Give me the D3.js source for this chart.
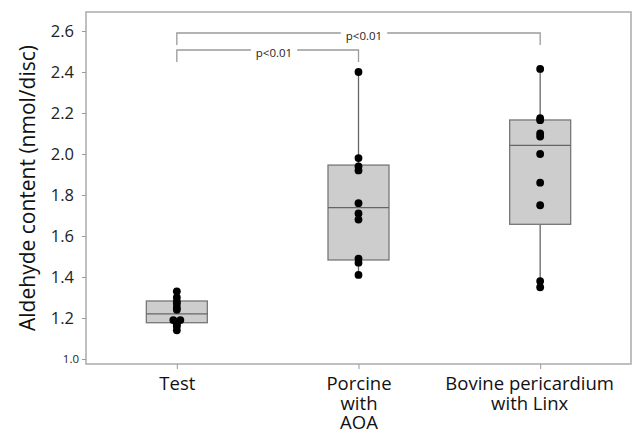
<!DOCTYPE html>
<html><head><meta charset="utf-8">
<script src="https://cdn.jsdelivr.net/npm/d3@7"></script>
<style>html,body{margin:0;padding:0;background:#fff;}svg{display:block;}</style>
</head><body><svg id="chart" width="633" height="436"></svg>
<script>
const categories = ["Test", "Porcine\nwith\nAOA", "Bovine pericardium\nwith Linx"];
const testValues = [1.33, 1.30, 1.28, 1.27, 1.25, 1.24, 1.19, 1.19, 1.17, 1.16, 1.14];
const porcineValues = [2.40, 1.98, 1.94, 1.92, 1.76, 1.71, 1.68, 1.49, 1.47, 1.41];
const bovineValues = [2.415, 2.175, 2.165, 2.10, 2.085, 2.00, 1.86, 1.75, 1.38, 1.35];
const boxQ1 = [1.177, 1.483, 1.657];
const boxMedian = [1.220, 1.738, 2.042];
const boxQ3 = [1.283, 1.946, 2.166];
const whiskerLow = [1.14, 1.41, 1.35];
const whiskerHigh = [1.33, 2.40, 2.415];
const yTicks = [1.0, 1.2, 1.4, 1.6, 1.8, 2.0, 2.2, 2.4, 2.6];
const comparisons = [
  {from: 0, to: 2, label: "p<0.01"},
  {from: 0, to: 1, label: "p<0.01"}
];
const yTitle = "Aldehyde content (nmol/disc)";

(function() {
const groups = [testValues, porcineValues, bovineValues];
const svg = d3.select("#chart");
const pLeft = 86, pRight = 631, pTop = 12, pBottom = 364;
const font = "'Open Sans', 'Noto Sans', sans-serif";

const x = d3.scalePoint().domain(d3.range(categories.length)).range([pLeft, pRight]).padding(0.5);
const y = d3.scaleLinear().domain([1.0, 2.6]).range([359, 31]);

// frame
svg.append("rect").attr("x", pLeft).attr("y", pTop).attr("width", pRight - pLeft).attr("height", pBottom - pTop)
  .attr("fill", "none").attr("stroke", "#b0b0b0").attr("stroke-width", 1.6);

// y axis
const yAxis = svg.append("g").attr("transform", `translate(${pLeft},0)`)
  .call(d3.axisLeft(y).tickValues(yTicks).tickSize(4).tickPadding(8).tickFormat(d3.format(".1f")));
yAxis.select(".domain").remove();
yAxis.selectAll(".tick line").attr("stroke", "#999");
yAxis.selectAll(".tick text").attr("font-family", font).attr("font-size", 16.5).attr("font-weight", 500).attr("fill", "#222")
  .filter(d => d === 1.0).attr("font-size", 11.5).attr("x", -7);

// x axis ticks
const labelShift = [0, 0, -11];
const xAxis = svg.append("g").attr("transform", `translate(0,${pBottom})`)
  .call(d3.axisBottom(x).tickSize(5).tickFormat(""));
xAxis.select(".domain").remove();
xAxis.selectAll(".tick line").attr("stroke", "#999");
xAxis.selectAll(".tick").each(function(d) {
  const lines = categories[d].split("\n");
  const t = d3.select(this).append("text").attr("text-anchor", "middle")
    .attr("font-family", font).attr("font-size", 18.5).attr("font-weight", 500).attr("fill", "#111");
  lines.forEach((ln, i) => t.append("tspan").attr("x", labelShift[d]).attr("y", 26 + i * 19.5).text(ln));
});

// y title
svg.append("text").attr("transform", `translate(35,188) rotate(-90)`).attr("text-anchor", "middle")
  .attr("font-family", font).attr("font-size", 21).attr("font-weight", 500).attr("fill", "#111").text(yTitle);

// boxes
const boxW = 61;
const boxes = svg.append("g");
categories.forEach((c, i) => {
  const cx = x(i);
  boxes.append("line").attr("x1", cx).attr("x2", cx).attr("y1", y(whiskerHigh[i])).attr("y2", y(boxQ3[i]))
    .attr("stroke", "#666").attr("stroke-width", 1.3);
  boxes.append("line").attr("x1", cx).attr("x2", cx).attr("y1", y(boxQ1[i])).attr("y2", y(whiskerLow[i]))
    .attr("stroke", "#666").attr("stroke-width", 1.3);
  boxes.append("rect").attr("x", cx - boxW / 2).attr("width", boxW)
    .attr("y", y(boxQ3[i])).attr("height", y(boxQ1[i]) - y(boxQ3[i]))
    .attr("fill", "#cdcdcd").attr("stroke", "#777").attr("stroke-width", 1.3);
  boxes.append("line").attr("x1", cx - boxW / 2).attr("x2", cx + boxW / 2)
    .attr("y1", y(boxMedian[i])).attr("y2", y(boxMedian[i])).attr("stroke", "#666").attr("stroke-width", 1.3);
});

// points (identical values dodged side by side)
const pts = svg.append("g");
groups.forEach((vals, i) => {
  const counts = d3.rollup(vals, v => v.length, v => v);
  const seen = new Map();
  vals.forEach(v => {
    const n = counts.get(v), k = seen.get(v) || 0;
    seen.set(v, k + 1);
    const off = (k - (n - 1) / 2) * 7;
    pts.append("circle").attr("cx", x(i) + off).attr("cy", y(v)).attr("r", 3.9).attr("fill", "#000");
  });
});

// significance brackets
const brY = [33, 50], brDrop = 12, labelX = [364, 274];
comparisons.forEach((c, j) => {
  const x1 = x(c.from), x2 = x(c.to), yy = brY[j];
  const g = svg.append("g");
  const lbl = g.append("text").attr("x", labelX[j]).attr("y", yy + 7).attr("text-anchor", "middle")
    .attr("font-family", font).attr("font-size", 11.5).attr("fill", "#222").text(c.label);
  const bb = lbl.node().getBBox();
  const gap1 = bb.x - 5, gap2 = bb.x + bb.width + 5;
  g.append("path").attr("d", `M${x1},${yy + brDrop}V${yy}H${gap1}M${gap2},${yy}H${x2}V${yy + brDrop}`)
    .attr("fill", "none").attr("stroke", "#9a9a9a").attr("stroke-width", 1.3);
});
})();
</script></body></html>
